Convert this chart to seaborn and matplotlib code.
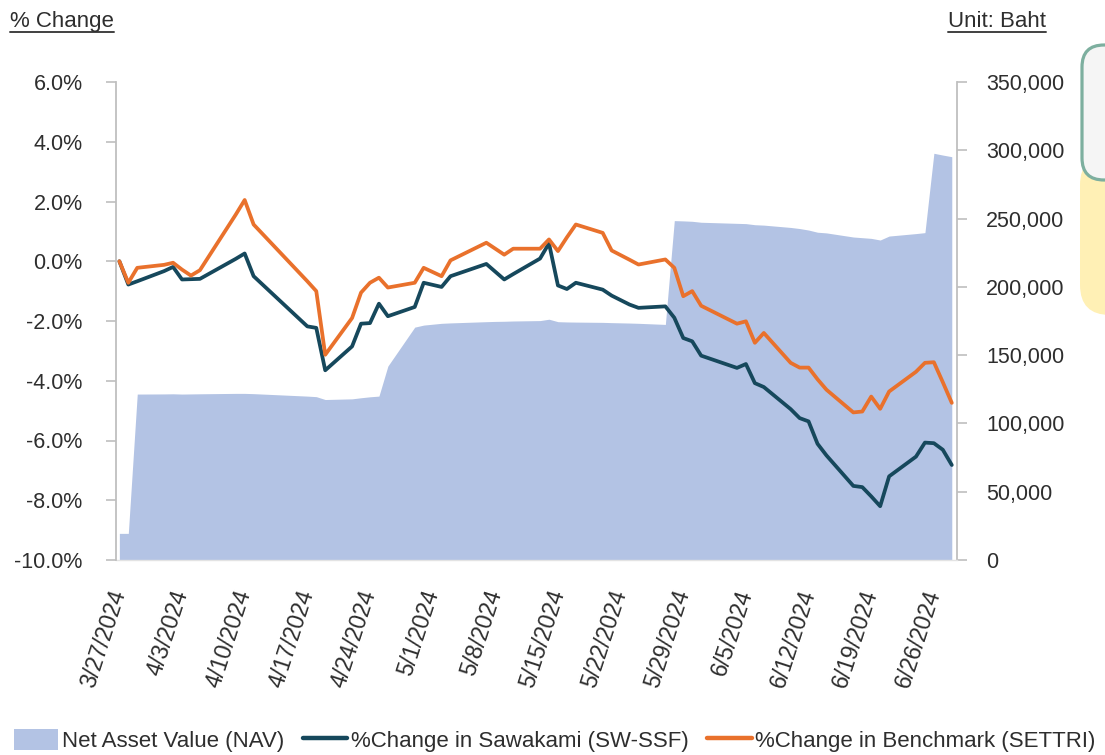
import pandas as pd
import numpy as np
import matplotlib
matplotlib.use("Agg")
import matplotlib.pyplot as plt
import seaborn as sns
from matplotlib.patches import Patch, FancyBboxPatch
from matplotlib.lines import Line2D
from matplotlib.transforms import IdentityTransform

# Trading days shown on the chart (Thai market holidays skipped)
dates = [
    "2024-03-27", "2024-03-28", "2024-03-29", "2024-04-01", "2024-04-02", "2024-04-03",
    "2024-04-04", "2024-04-05", "2024-04-09", "2024-04-10", "2024-04-11", "2024-04-17",
    "2024-04-18", "2024-04-19", "2024-04-22", "2024-04-23", "2024-04-24", "2024-04-25",
    "2024-04-26", "2024-04-29", "2024-04-30", "2024-05-02", "2024-05-03", "2024-05-07",
    "2024-05-08", "2024-05-09", "2024-05-10", "2024-05-13", "2024-05-14", "2024-05-15",
    "2024-05-16", "2024-05-17", "2024-05-20", "2024-05-21", "2024-05-23", "2024-05-24",
    "2024-05-27", "2024-05-28", "2024-05-29", "2024-05-30", "2024-05-31", "2024-06-04",
    "2024-06-05", "2024-06-06", "2024-06-07", "2024-06-10", "2024-06-11", "2024-06-12",
    "2024-06-13", "2024-06-14", "2024-06-17", "2024-06-18", "2024-06-19", "2024-06-20",
    "2024-06-21", "2024-06-24", "2024-06-25", "2024-06-26", "2024-06-27", "2024-06-28",
]

# %Change in Sawakami (SW-SSF)
fund_pct = [
    0.0, -0.78, -0.67, -0.33, -0.19, -0.61,
    -0.60, -0.59, 0.08, 0.26, -0.50, -2.18,
    -2.23, -3.65, -2.85, -2.09, -2.07, -1.42,
    -1.84, -1.53, -0.72, -0.86, -0.50, -0.09,
    -0.35, -0.61, -0.43, 0.09, 0.60, -0.81,
    -0.93, -0.72, -0.95, -1.15, -1.45, -1.56,
    -1.51, -1.89, -2.57, -2.68, -3.16, -3.57,
    -3.44, -4.08, -4.21, -4.95, -5.25, -5.36,
    -6.11, -6.50, -7.52, -7.56, -7.87, -8.20,
    -7.20, -6.54, -6.07, -6.09, -6.31, -6.82,
]

# %Change in Benchmark (SETTRI)
bench_pct = [
    0.0, -0.72, -0.22, -0.12, -0.05, -0.28,
    -0.48, -0.30, 1.56, 2.05, 1.23, -0.67,
    -1.00, -3.13, -1.90, -1.05, -0.72, -0.55,
    -0.88, -0.72, -0.22, -0.50, 0.03, 0.62,
    0.42, 0.22, 0.42, 0.42, 0.73, 0.34,
    0.80, 1.23, 0.95, 0.36, 0.05, -0.11,
    0.06, -0.22, -1.17, -1.00, -1.49, -2.09,
    -2.01, -2.73, -2.40, -3.40, -3.56, -3.56,
    -3.95, -4.30, -5.06, -5.03, -4.53, -4.94,
    -4.36, -3.70, -3.40, -3.38, -4.05, -4.74,
]

# Net Asset Value (Baht)
nav = [
    19500, 19500, 121500, 121600, 121700, 121500,
    121600, 121700, 122000, 122000, 121800, 120000,
    119600, 117500, 118000, 118800, 119500, 120000,
    142000, 170500, 172000, 173300, 173600, 174500,
    174700, 174800, 175000, 175300, 176300, 174500,
    174300, 174200, 174000, 173800, 173500, 173300,
    172500, 248500, 248300, 248000, 247300, 246500,
    246300, 245500, 245200, 243500, 242700, 241600,
    240000, 239500, 236500, 236000, 235500, 234300,
    237200, 239000, 239700, 297800, 296500, 295300,
]

pct_ticks = [-10, -8, -6, -4, -2, 0, 2, 4, 6]
nav_ticks = [0, 50000, 100000, 150000, 200000, 250000, 300000, 350000]
date_ticks = pd.date_range("2024-03-27", "2024-06-26", freq="7D")

df = pd.DataFrame({"date": pd.to_datetime(dates), "fund": fund_pct,
                   "bench": bench_pct, "nav": nav})

NAV_COLOR = "#B3C3E4"
FUND_COLOR = "#16485C"
BENCH_COLOR = "#E9712C"
TEXT_COLOR = "#2E2E2E"
SPINE_COLOR = "#BFBFBF"

sns.set_style("white")
plt.rcParams["font.family"] = ["Liberation Sans", "DejaVu Sans"]

W, H = 1105, 755
fig = plt.figure(figsize=(W / 100, H / 100), dpi=100)
ax = fig.add_axes([116 / W, 1 - 560 / H, (957 - 116) / W, (560 - 82) / H])

# NAV area on the primary axes (right-hand scale)
ax.fill_between(df["date"], 0, df["nav"], color=NAV_COLOR, linewidth=0)
ax.set_ylim(0, 350000)
ax.set_xlim(pd.Timestamp("2024-03-27") - pd.Timedelta(hours=9),
            pd.Timestamp("2024-06-28") + pd.Timedelta(hours=14))

# % change lines on the twin axes (left-hand scale), drawn above the area
ax2 = ax.twinx()
sns.lineplot(data=df, x="date", y="fund", ax=ax2, color=FUND_COLOR, linewidth=2.7, legend=False)
sns.lineplot(data=df, x="date", y="bench", ax=ax2, color=BENCH_COLOR, linewidth=2.7, legend=False)
ax2.set_ylim(-10, 6)
ax2.set_xlabel("")
ax2.set_ylabel("")
ax.set_xlabel("")
ax.set_ylabel("")

# twinx moves the original ticks to the left, so swap sides afterwards
ax.yaxis.tick_right()
ax.yaxis.set_label_position("right")
ax.set_yticks(nav_ticks)
ax.set_yticklabels([f"{v:,}" for v in nav_ticks])
ax2.yaxis.tick_left()
ax2.yaxis.set_label_position("left")
ax2.set_yticks(pct_ticks)
ax2.set_yticklabels([f"{v:.1f}%" for v in pct_ticks])

ax.set_xticks(date_ticks)
ax.set_xticklabels([f"{d.month}/{d.day}/{d.year}" for d in date_ticks],
                   rotation=72, ha="right", va="center", rotation_mode="anchor")
ax.tick_params(axis="x", length=0, pad=22, labelsize=16.5, labelcolor=TEXT_COLOR)
ax.tick_params(axis="y", which="major", direction="out", length=7, width=1.2,
               color=SPINE_COLOR, pad=14, labelsize=15.5, labelcolor=TEXT_COLOR,
               right=True, left=False, labelright=True, labelleft=False)
ax2.tick_params(axis="y", which="major", direction="out", length=7, width=1.2,
                color=SPINE_COLOR, pad=17, labelsize=15.5, labelcolor=TEXT_COLOR,
                left=True, right=False, labelleft=True, labelright=False)
ax2.tick_params(axis="x", length=0, labelbottom=False)

for a in (ax, ax2):
    for s in a.spines.values():
        s.set_visible(False)
ax.spines["right"].set_visible(True)
ax.spines["right"].set_color(SPINE_COLOR)
ax.spines["right"].set_linewidth(1.3)
ax.spines["bottom"].set_visible(True)
ax.spines["bottom"].set_color("#E3E3E3")
ax.spines["bottom"].set_linewidth(1.0)
ax2.spines["left"].set_visible(True)
ax2.spines["left"].set_color(SPINE_COLOR)
ax2.spines["left"].set_linewidth(1.3)
ax.grid(False)
ax2.grid(False)

# axis captions with underline
t1 = fig.text(10 / W, 1 - 27 / H, "% Change", fontsize=16, color=TEXT_COLOR, va="baseline", ha="left")
t2 = fig.text(1046 / W, 1 - 27 / H, "Unit: Baht", fontsize=16, color=TEXT_COLOR, va="baseline", ha="right")

# legend
handles = [
    Patch(facecolor=NAV_COLOR, edgecolor="none", label="Net Asset Value (NAV)"),
    Line2D([0], [0], color=FUND_COLOR, lw=3.2, label="%Change in Sawakami (SW-SSF)"),
    Line2D([0], [0], color=BENCH_COLOR, lw=3.2, label="%Change in Benchmark (SETTRI)"),
]
fig.legend(handles=handles, loc="lower left", bbox_to_anchor=(14 / W, 3 / H), ncol=3,
           frameon=False, fontsize=16, handlelength=2.0, handleheight=1.05,
           handletextpad=0.15, columnspacing=0.85, borderpad=0, borderaxespad=0,
           labelcolor=TEXT_COLOR)

# cropped call-out boxes at the right edge
yellow = FancyBboxPatch((1080, H - 315), 120, 160, boxstyle="round,pad=0,rounding_size=30",
                        transform=IdentityTransform(), facecolor="#FFF0B5", edgecolor="none")
grey = FancyBboxPatch((1082, H - 180), 120, 135, boxstyle="round,pad=0,rounding_size=22",
                      transform=IdentityTransform(), facecolor="#F5F5F5", edgecolor="#7DAF9F", linewidth=2.3)
fig.add_artist(yellow)
fig.add_artist(grey)

fig.canvas.draw()
renderer = fig.canvas.get_renderer()
for t in (t1, t2):
    bb = t.get_window_extent(renderer)
    fig.add_artist(Line2D([bb.x0, bb.x1], [H - 32, H - 32], transform=IdentityTransform(),
                          color="#404040", linewidth=1.4))

fig.savefig("out.png", dpi=100)
print("saved out.png")
